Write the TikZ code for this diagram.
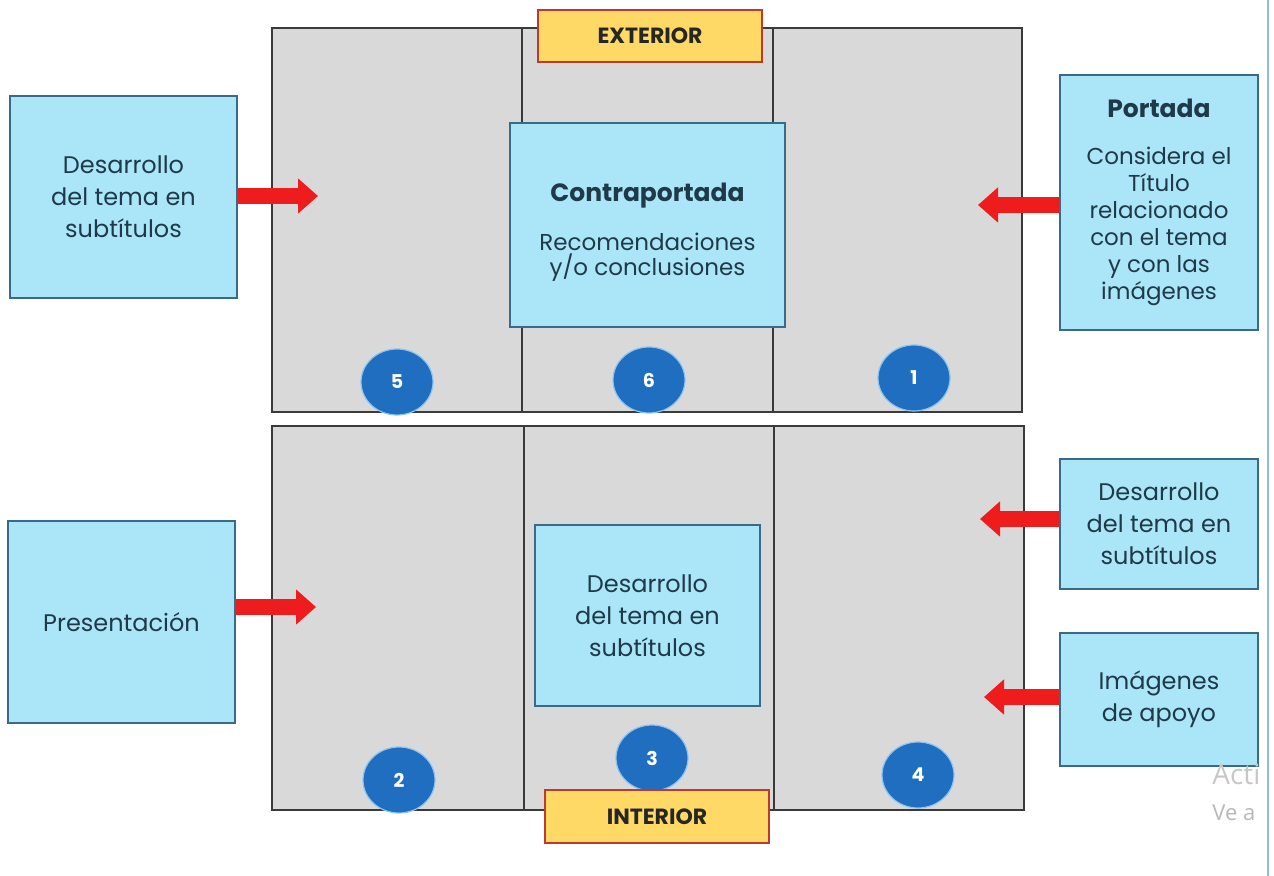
\documentclass[tikz,border=0pt]{standalone}
\usepackage{fontspec}
\setmainfont{Poppins}
\newfontfamily\wmfont{Open Sans}
\usetikzlibrary{arrows.meta,shapes.geometric}
\definecolor{panelgray}{HTML}{D9D9D9}
\definecolor{paneledge}{HTML}{3A3A3A}
\definecolor{boxfill}{HTML}{ABE6F8}
\definecolor{boxedge}{HTML}{3A6A88}
\definecolor{boxtext}{HTML}{1E3A48}
\definecolor{labfill}{HTML}{FFD966}
\definecolor{labedge}{HTML}{C0392B}
\definecolor{dotblue}{HTML}{1F6EC0}
\definecolor{dotrim}{HTML}{8CC4F0}
\definecolor{arrred}{HTML}{EE1C1C}
\definecolor{sideline}{HTML}{8DBBE3}
\tikzset{
  panel/.style={draw=paneledge, line width=1pt, fill=panelgray},
  infobox/.style={draw=boxedge, line width=1pt, fill=boxfill, text=boxtext,
    align=center, inner sep=0pt, font=\fontsize{12}{16}\selectfont},
  tag/.style={draw=labedge, line width=1pt, fill=labfill, text=black!85,
    inner sep=0pt, font=\bfseries\fontsize{11}{13}\selectfont},
  dot/.style={ellipse, fill=dotblue, draw=dotrim, line width=0.6pt, text=white,
    inner sep=0pt, minimum width=36pt, minimum height=33pt,
    font=\bfseries\fontsize{9.5}{10}\selectfont},
  pointer/.style={draw=arrred, line width=8pt, -{Triangle[length=10pt,width=17pt]}},
  wmark/.style={inner sep=0pt, anchor=base west}
}
\begin{document}
\begin{tikzpicture}[x=0.5pt,y=-0.5pt]
\useasboundingbox (0,0) rectangle (1274,876);
% side line
\draw[sideline, line width=1pt] (1268,0) -- (1268,876);
% top panels
\draw[panel] (272,28) rectangle (522,412);
\draw[panel] (522,28) rectangle (773,412);
\draw[panel] (773,28) rectangle (1022,412);
% bottom panels
\draw[panel] (272,426) rectangle (524,810);
\draw[panel] (524,426) rectangle (774,810);
\draw[panel] (774,426) rectangle (1024,810);
% tag exterior
\node[tag, minimum width=112pt, minimum height=26pt] (ext) at (650,36) {EXTERIOR};
% boxes
\node[infobox, minimum width=113.5pt, minimum height=101pt] (dtl) at (123.5,197)
  {Desarrollo\\del tema en\\subtítulos};
\node[infobox, minimum width=137.5pt, minimum height=102pt, font=\fontsize{11.5}{12.5}\selectfont] (contra) at (647.5,225)
  {\rule{0pt}{16pt}{\bfseries\fontsize{12.5}{14}\selectfont Contraportada}\\[12pt]Recomendaciones\\y/o conclusiones};
\node[infobox, minimum width=99pt, minimum height=127.5pt, font=\fontsize{11.5}{13.5}\selectfont] (portada) at (1159,202.5)
  {{\bfseries\fontsize{12.5}{14}\selectfont Portada}\\[10pt]Considera el\\Título\\relacionado\\con el tema\\y con las\\imágenes};
\node[infobox, minimum width=113.5pt, minimum height=101pt] (pres) at (121.5,622) {Presentación};
\node[infobox, minimum width=112.5pt, minimum height=90.5pt] (dmid) at (647.5,615.5)
  {Desarrollo\\del tema en\\subtítulos};
\node[infobox, minimum width=99pt, minimum height=65pt] (dright) at (1159,524)
  {Desarrollo\\del tema en\\subtítulos};
\node[infobox, minimum width=99pt, minimum height=66.5pt] (imgs) at (1159,699.5)
  {Imágenes\\de apoyo};
% arrow targets
\coordinate (t5) at (318,196);
\coordinate (t1) at (978,205);
\coordinate (t2) at (316,607);
\coordinate (t4a) at (980,519);
\coordinate (t4b) at (984,697);
\draw[pointer] (dtl.east |- t5) -- (t5);
\draw[pointer] (portada.west |- t1) -- (t1);
\draw[pointer] (pres.east |- t2) -- (t2);
\draw[pointer] (dright.west |- t4a) -- (t4a);
\draw[pointer] (imgs.west |- t4b) -- (t4b);
% number dots
\node[dot] (n5) at (397,382) {5};
\node[dot] (n6) at (649,380) {6};
\node[dot] (n1) at (914,378) {1};
\node[dot] (n2) at (399,780) {2};
\node[dot] (n3) at (652,758) {3};
\node[dot] (n4) at (918,775) {4};
% tag interior
\node[tag, minimum width=112pt, minimum height=26.5pt] (int) at (657,816.5) {INTERIOR};
% watermark
\node[wmark, text=black!22, font=\wmfont\fontsize{14}{15}\selectfont] (wm1) at (1212,784) {Acti};
\node[wmark, text=black!28, font=\wmfont\fontsize{11}{12}\selectfont] (wm2) at (1212,820) {Ve a};
\end{tikzpicture}
\end{document}
